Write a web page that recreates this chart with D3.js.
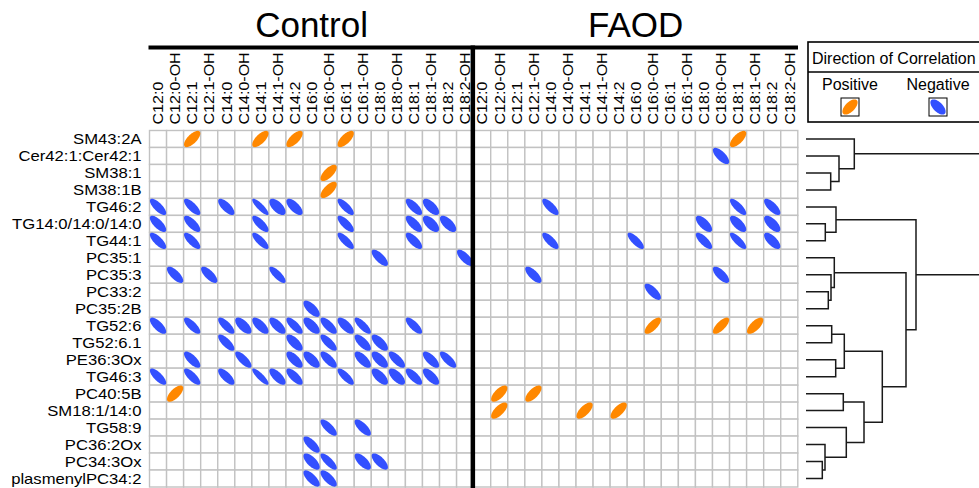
<!DOCTYPE html>
<html>
<head>
<meta charset="utf-8">
<title>Direction of Correlation</title>
<script src="https://cdn.jsdelivr.net/npm/d3@7"></script>
<style>
  body { margin: 0; background: #fff; }
  svg { display: block; font-family: 'Liberation Sans', Arial, Helvetica, sans-serif; }
  .cell { fill: #fff; stroke: #c2c2c2; stroke-width: 1.4; }
  .colLabel { font-size: 14.6px; }
  .rowLabel { font-size: 14.6px; }
  .title { font-size: 35px; }
  .legend { font-size: 16px; }
  .dendro { fill: none; stroke: #1a1a1a; stroke-width: 1.5; }
</style>
</head>
<body>
<svg class="corrGrid"></svg>
<script>
/* values */
const groups = ['Control', 'FAOD'];

const colLabels = ['C12:0', 'C12:0-OH', 'C12:1', 'C12:1-OH', 'C14:0', 'C14:0-OH',
  'C14:1', 'C14:1-OH', 'C14:2', 'C16:0', 'C16:0-OH', 'C16:1', 'C16:1-OH',
  'C18:0', 'C18:0-OH', 'C18:1', 'C18:1-OH', 'C18:2', 'C18:2-OH'];

const rowLabels = ['SM43:2A', 'Cer42:1:Cer42:1', 'SM38:1', 'SM38:1B', 'TG46:2',
  'TG14:0/14:0/14:0', 'TG44:1', 'PC35:1', 'PC35:3', 'PC33:2', 'PC35:2B', 'TG52:6',
  'TG52:6.1', 'PE36:3Ox', 'TG46:3', 'PC40:5B', 'SM18:1/14:0', 'TG58:9', 'PC36:2Ox',
  'PC34:3Ox', 'plasmenylPC34:2'];

// [row, column, correlation]
const controlCells = [
  [0, 2, 0.68], [0, 6, 0.68], [0, 8, 0.68], [0, 11, 0.68],
  [2, 10, 0.68], [3, 10, 0.68],
  [4, 0, -0.75], [4, 2, -0.75], [4, 4, -0.72], [4, 6, -0.85], [4, 7, -0.62], [4, 8, -0.68],
  [4, 11, -0.78], [4, 15, -0.72], [4, 16, -0.65],
  [5, 0, -0.72], [5, 2, -0.72], [5, 6, -0.75], [5, 11, -0.75], [5, 15, -0.7], [5, 16, -0.62], [5, 17, -0.65],
  [6, 0, -0.75], [6, 2, -0.75], [6, 6, -0.78], [6, 11, -0.78], [6, 15, -0.72],
  [7, 13, -0.72], [7, 18, -0.72],
  [8, 1, -0.72], [8, 3, -0.72], [8, 7, -0.78],
  [10, 9, -0.68],
  [11, 0, -0.72], [11, 2, -0.75], [11, 4, -0.75], [11, 5, -0.65], [11, 6, -0.68], [11, 7, -0.68],
  [11, 8, -0.75], [11, 9, -0.65], [11, 10, -0.72], [11, 11, -0.68], [11, 12, -0.78], [11, 15, -0.75],
  [12, 4, -0.75], [12, 8, -0.68], [12, 10, -0.75], [12, 12, -0.7], [12, 13, -0.68],
  [13, 2, -0.72], [13, 5, -0.75], [13, 8, -0.68], [13, 9, -0.65], [13, 10, -0.72], [13, 12, -0.68],
  [13, 13, -0.65], [13, 14, -0.72], [13, 16, -0.7], [13, 17, -0.75],
  [14, 0, -0.75], [14, 2, -0.75], [14, 4, -0.72], [14, 6, -0.85], [14, 7, -0.7], [14, 8, -0.72],
  [14, 11, -0.78], [14, 13, -0.65], [14, 14, -0.65], [14, 15, -0.72], [14, 16, -0.68],
  [15, 1, 0.68],
  [17, 10, -0.75], [17, 12, -0.72],
  [18, 9, -0.72],
  [19, 9, -0.68], [19, 10, -0.78], [19, 12, -0.68], [19, 13, -0.7],
  [20, 9, -0.72], [20, 10, -0.72]
];

const faodCells = [
  [0, 15, 0.68],
  [1, 14, -0.7],
  [4, 4, -0.75], [4, 15, -0.78], [4, 17, -0.72],
  [5, 13, -0.68], [5, 15, -0.68], [5, 17, -0.65],
  [6, 4, -0.75], [6, 9, -0.78], [6, 13, -0.75], [6, 15, -0.8], [6, 17, -0.68],
  [8, 3, -0.72], [8, 14, -0.7],
  [9, 10, -0.72],
  [11, 10, 0.72], [11, 14, 0.72], [11, 16, 0.68],
  [15, 1, 0.68], [15, 3, 0.68],
  [16, 1, 0.68], [16, 6, 0.68], [16, 8, 0.68]
];

// hclust style merges: negative = leaf (row number), positive = earlier merge
const merges = [
  [-3, -4], [-2, 1], [-1, 2], [-6, -7], [-5, 4], [-10, -11], [-9, 6], [-8, 7],
  [-12, -13], [-14, -15], [9, 10], [-16, -17], [-20, -21], [-19, 13], [-18, 14],
  [12, 15], [11, 16], [8, 17], [5, 18], [3, 19]
];
const mergeHeights = [2.47, 3.3, 4.83, 1.93, 3.0, 2.23, 2.5, 2.83, 2.57, 2.97, 3.83,
  3.73, 1.63, 1.9, 4.03, 5.8, 7.63, 10.0, 11.0, 20.0];

const legendLabels = ['Positive', 'Negative'];
const legendValues = [0.6, -0.6];

const app = (function () {
  'use strict';

  const W = 979;
  const H = 488;
  const posColor = '#ff8800';
  const negColor = '#3350ff';

  function ellipsePath (r, s) {
    // corrplot style ellipse of a 2x2 correlation matrix
    const d = Math.acos(r);
    const pts = d3.range(72).map(function (i) {
      const t = i / 72 * 2 * Math.PI;
      return [Math.cos(t + d / 2) * s, -Math.cos(t - d / 2) * s];
    });
    return d3.line()(pts) + 'Z';
  }

  function init () {
    const svg = d3.select('.corrGrid')
      .attr('width', W)
      .attr('height', H);

    const xPanel = d3.scaleBand()
      .domain(groups)
      .range([149.5, 797.8]);

    const xCol = d3.scaleBand()
      .domain(colLabels)
      .range([0, xPanel.bandwidth()]);

    const yRow = d3.scaleBand()
      .domain(rowLabels)
      .range([130.5, 487]);

    const cellsByGroup = { Control: controlCells, FAOD: faodCells };

    groups.forEach(function (g) {
      const panel = svg.append('g')
        .attr('transform', 'translate(' + xPanel(g) + ',0)');

      // grid
      const grid = [];
      rowLabels.forEach(function (r) {
        colLabels.forEach(function (c) { grid.push({ r: r, c: c }); });
      });
      panel.selectAll('rect.cell')
        .data(grid)
        .enter()
        .append('rect')
        .attr('class', 'cell')
        .attr('x', function (d) { return xCol(d.c); })
        .attr('y', function (d) { return yRow(d.r); })
        .attr('width', xCol.bandwidth())
        .attr('height', yRow.bandwidth());

      // ellipses
      const s = 0.48 * Math.min(xCol.bandwidth(), yRow.bandwidth());
      panel.selectAll('path.ell')
        .data(cellsByGroup[g])
        .enter()
        .append('path')
        .attr('class', 'ell')
        .attr('transform', function (d) {
          const cx = xCol(colLabels[d[1]]) + xCol.bandwidth() / 2;
          const cy = yRow(rowLabels[d[0]]) + yRow.bandwidth() / 2;
          return 'translate(' + cx + ',' + cy + ')';
        })
        .attr('d', function (d) { return ellipsePath(d[2], s); })
        .attr('fill', function (d) { return d[2] > 0 ? posColor : negColor; });

      // column labels (glyphs a bit wide, like the source)
      panel.selectAll('text.colLabel')
        .data(colLabels)
        .enter()
        .append('text')
        .attr('class', 'colLabel')
        .attr('transform', function (d) {
          return 'translate(' + (xCol(d) + xCol.bandwidth() / 2) + ',124.5) rotate(-90) scale(1.1,1)';
        })
        .attr('dy', '0.36em')
        .text(function (d) { return d; });

      // panel title
      panel.append('text')
        .attr('class', 'title')
        .attr('x', xPanel.bandwidth() / 2)
        .attr('y', 37)
        .style('text-anchor', 'middle')
        .text(g);
    });

    // row labels
    svg.selectAll('text.rowLabel')
      .data(rowLabels)
      .enter()
      .append('text')
      .attr('class', 'rowLabel')
      .attr('transform', function (d) {
        return 'translate(141.5,' + (yRow(d) + yRow.bandwidth() / 2) + ') scale(1.14,1)';
      })
      .attr('dy', '0.36em')
      .style('text-anchor', 'end')
      .text(function (d) { return d; });

    // thick separators
    svg.append('line')
      .attr('x1', 148.5).attr('x2', 798)
      .attr('y1', 47.5).attr('y2', 47.5)
      .attr('stroke', '#000').attr('stroke-width', 4);
    svg.append('line')
      .attr('x1', xPanel('FAOD') - 0.8).attr('x2', xPanel('FAOD') - 0.8)
      .attr('y1', 45.5).attr('y2', H)
      .attr('stroke', '#000').attr('stroke-width', 4.5);

    // dendrogram
    const xDend = d3.scaleLinear().domain([0, 10]).range([806, 906]);
    const nodes = [];
    function pos (k) {
      if (k < 0) {
        return { y: yRow(rowLabels[-k - 1]) + yRow.bandwidth() / 2, h: 0 };
      }
      return nodes[k - 1];
    }
    merges.forEach(function (m, i) {
      const a = pos(m[0]);
      const b = pos(m[1]);
      const h = mergeHeights[i];
      nodes.push({ y: (a.y + b.y) / 2, h: h });
      svg.append('path')
        .attr('class', 'dendro')
        .attr('d', 'M' + xDend(a.h) + ',' + a.y + 'H' + xDend(h) + 'V' + b.y + 'H' + xDend(b.h));
    });

    // legend
    const lg = svg.append('g').attr('class', 'legend');
    lg.append('rect')
      .attr('x', 808).attr('y', 42)
      .attr('width', 200).attr('height', 80)
      .attr('fill', 'none').attr('stroke', '#000').attr('stroke-width', 1.6);
    lg.append('line')
      .attr('x1', 808).attr('x2', 1008)
      .attr('y1', 72).attr('y2', 72)
      .attr('stroke', '#000').attr('stroke-width', 1.3);
    lg.append('text')
      .attr('x', 812).attr('y', 63.5)
      .text('Direction of Correlation');

    const xLeg = d3.scalePoint().domain(legendLabels).range([850, 938]);
    const item = lg.selectAll('g.item')
      .data(legendLabels)
      .enter()
      .append('g')
      .attr('class', 'item')
      .attr('transform', function (d) { return 'translate(' + xLeg(d) + ',0)'; });
    item.append('text')
      .attr('y', 90)
      .style('text-anchor', 'middle')
      .text(function (d) { return d; });
    item.append('rect')
      .attr('x', -9).attr('y', 98)
      .attr('width', 18).attr('height', 18)
      .attr('fill', '#fff').attr('stroke', '#000').attr('stroke-width', 1);
    item.append('path')
      .attr('transform', 'translate(0,107)')
      .attr('d', function (d, i) { return ellipsePath(legendValues[i], 7.6); })
      .attr('fill', function (d, i) { return legendValues[i] > 0 ? posColor : negColor; });
  }

  return {
    init: init
  };
}());

window.addEventListener('load', app.init);
</script>
</body>
</html>
